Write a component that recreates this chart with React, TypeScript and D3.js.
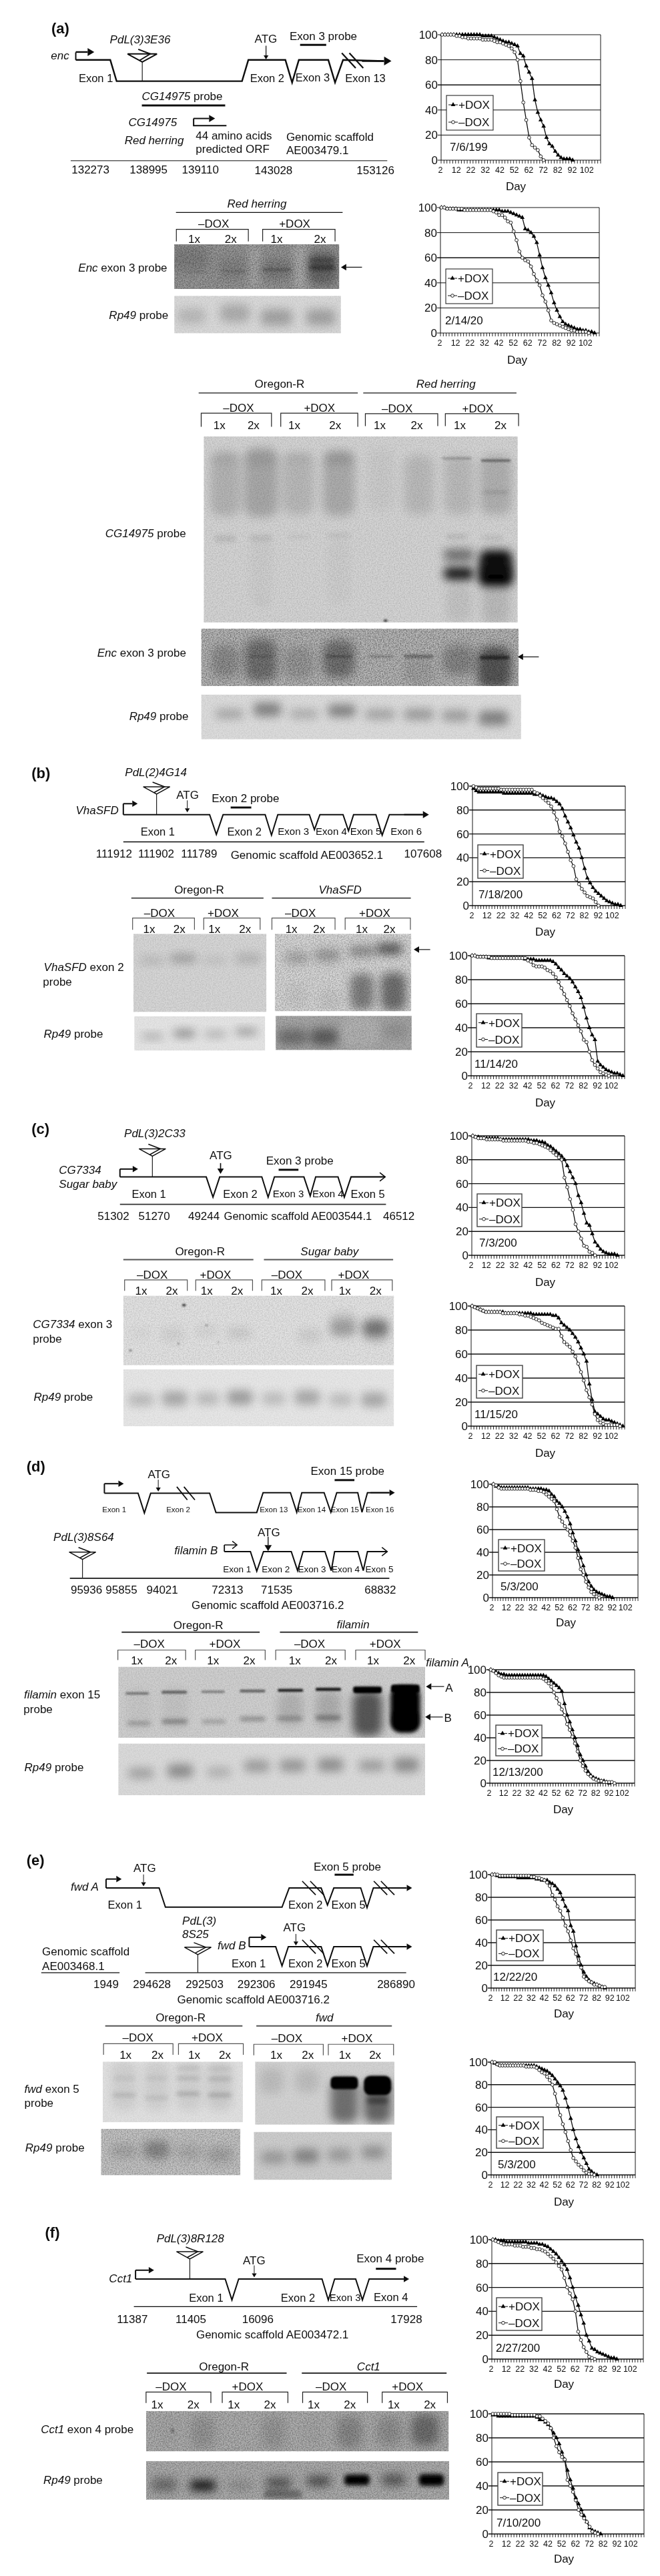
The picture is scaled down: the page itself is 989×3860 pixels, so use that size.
import React from "react";
import * as d3 from "d3";

// ---------- survival data: % alive, one value every 2 days starting at day 2 ----------
const a1Plus = [100,100,100,100,100,100,100,100,100,100,100,100,100,100,99,99,99,99,98,97,96,95,94,94,93,92,91,85,83,75,70,65,48,38,32,27,18,13,11,7,4,2,1,1,1,0];
const a1Minus = [100,100,100,100,100,99,99,98,98,97,97,97,97,97,96,96,96,96,95,94,94,93,92,91,89,86,80,63,46,32,18,12,10,8,3,0];
const a2Plus = [100,100,99,99,99,99,98,98,98,98,98,98,98,98,98,98,98,98,98,98,98,97,97,97,96,95,94,93,92,83,82,80,77,72,62,52,44,38,32,24,18,13,9,7,6,5,4,3,3,2,2,1,1,0];
const a2Minus = [100,100,99,99,99,99,99,99,98,98,98,98,98,98,98,98,98,98,97,96,94,94,92,89,88,81,74,65,60,58,57,53,47,42,38,30,25,18,10,8,7,6,5,4,3,2,2,1,1,1,1,0];
const b1Plus = [98,96,95,95,95,95,95,95,95,95,95,94,94,94,94,94,94,94,94,94,94,94,93,93,93,92,91,90,90,89,87,85,81,75,70,65,59,53,48,40,31,23,19,15,12,10,8,6,4,3,2,1,1,0];
const b1Minus = [100,99,98,98,98,98,98,98,98,98,97,97,97,97,97,97,97,97,97,97,97,97,95,94,92,90,88,86,83,78,72,62,58,52,45,38,33,22,18,14,11,8,7,6,3,0];
const b2Plus = [100,100,99,99,99,99,98,98,98,98,98,98,98,98,98,98,98,98,98,97,97,97,97,96,96,96,96,96,96,95,93,90,88,85,83,81,78,74,70,65,57,48,40,34,30,12,9,7,5,4,3,2,2,1,0];
const b2Minus = [100,100,99,99,99,99,99,98,98,98,98,98,98,98,98,98,98,98,98,98,96,95,92,91,91,91,90,88,87,85,82,78,73,68,63,58,52,47,42,37,30,28,20,13,9,6,3,2,1,0];
const c1Plus = [100,99,99,98,98,98,98,98,98,98,97,97,97,97,97,97,97,97,97,97,97,96,96,96,95,95,94,92,91,89,87,85,83,80,75,70,65,60,50,44,35,27,25,18,11,8,5,3,2,1,1,1,0];
const c1Minus = [100,99,98,98,98,97,97,97,97,97,97,96,96,96,96,96,96,96,96,96,95,95,94,94,93,92,91,90,88,86,84,82,80,65,57,47,38,26,20,14,8,7,3,2,0];
const c2Plus = [100,99,98,97,96,95,95,95,95,95,95,95,94,94,94,94,94,94,94,94,94,94,93,93,93,93,93,93,93,92,92,90,86,84,82,80,77,74,70,65,60,54,35,22,12,10,8,6,5,5,4,3,2,1,0];
const c2Minus = [100,99,98,97,96,95,95,95,95,95,95,94,94,94,94,94,94,93,93,92,92,91,90,89,88,86,85,84,83,82,81,81,75,70,68,66,62,58,52,45,38,30,24,18,10,5,3,2,1,1,1,1,1,0];
const d1Plus = [100,98,98,97,97,97,97,97,97,97,97,97,97,97,96,96,96,96,96,95,95,94,91,89,85,83,80,76,71,65,57,50,42,35,28,20,14,10,7,5,4,3,2,1,1,0];
const d1Minus = [100,99,97,96,96,96,96,96,96,96,96,96,96,96,95,95,95,94,94,93,91,89,87,85,78,71,67,63,60,55,50,44,35,25,20,14,9,5,3,1,0];
const d2Plus = [100,99,98,97,96,96,95,95,95,95,95,95,95,95,95,95,95,95,95,95,95,94,92,90,88,86,84,81,70,60,54,47,40,33,25,20,15,10,7,5,4,3,2,2,1,0];
const d2Minus = [100,99,97,95,94,93,93,93,93,93,93,93,93,93,93,93,93,93,93,93,92,90,88,85,80,75,70,65,60,52,47,41,35,28,20,15,11,8,6,4,3,2,2,1,1,1,1,0];
const e1Plus = [100,100,99,98,98,98,98,98,98,98,97,97,97,97,97,97,97,96,96,95,95,95,93,92,90,87,84,78,72,68,55,50,37,28,20,14,10,7,5,4,3,2,1,0];
const e1Minus = [100,100,100,99,99,99,99,99,99,99,99,99,99,99,99,98,98,97,97,96,95,93,90,82,78,72,68,62,55,50,42,35,30,22,18,10,8,6,5,3,3,2,1,1];
const e2Plus = [100,99,98,97,97,97,97,97,97,97,97,97,97,97,97,97,97,96,95,94,93,92,90,88,85,82,79,75,68,60,50,40,32,25,20,15,10,5,3,1,0];
const e2Minus = [100,100,98,97,97,97,97,97,97,97,97,97,97,96,96,96,96,95,93,91,90,87,84,80,72,62,53,45,38,30,22,15,12,9,7,4,2,1,1,0];
const f1Plus = [100,100,99,99,99,98,98,98,98,98,98,98,98,97,97,97,97,96,96,95,94,92,90,88,85,82,79,75,68,60,52,45,37,30,20,15,9,8,6,5,4,3,2,1,1,0];
const f1Minus = [100,99,98,97,96,96,96,96,95,95,95,94,94,94,93,93,92,92,91,90,88,86,84,81,78,75,68,60,55,50,40,23,16,10,6,2,1,0];
const f2Plus = [99,99,98,98,98,98,98,98,98,98,98,98,98,98,98,98,97,95,95,93,91,88,84,80,75,68,62,53,45,38,30,25,20,15,10,5,3,2,1,0];
const f2Minus = [100,100,100,100,100,100,100,99,99,99,99,99,99,99,99,99,98,98,96,94,92,88,80,73,68,64,62,45,40,35,28,20,16,13,10,6,2,1,0];

const dayTicks = [2,12,22,32,42,52,62,72,82,92,102];
const pctTicks = [0,20,40,60,80,100];
const FONT = "'Liberation Sans', Arial, sans-serif";

type Cfg = { plus:number[]; minus:number[]; date:string; box:number[]; legend:number[]; datePos:number[]; dayPos:number[]; soft?:boolean };
const charts: Cfg[] = [
  { plus:a1Plus, minus:a1Minus, date:"7/6/199", box:[661,900,52,240], legend:[669,739,143,195], datePos:[674,220], dayPos:[773,279] },
  { plus:a2Plus, minus:a2Minus, date:"2/14/20", box:[660,898,311,499], legend:[668,738,403,455], datePos:[667,480], dayPos:[775,539] },
  { plus:b1Plus, minus:b1Minus, date:"7/18/200", box:[708,937,1178,1357], legend:[716,784,1266,1316], datePos:[717,1340], dayPos:[817,1396], soft:true },
  { plus:b2Plus, minus:b2Minus, date:"11/14/20", box:[706,936,1432,1612], legend:[714,782,1519,1569], datePos:[711,1594], dayPos:[817,1652], soft:true },
  { plus:c1Plus, minus:c1Minus, date:"7/3/200", box:[707,936,1702,1881], legend:[715,782,1789,1838], datePos:[718,1862], dayPos:[817,1921], soft:true },
  { plus:c2Plus, minus:c2Minus, date:"11/15/20", box:[706,936,1957,2137], legend:[714,783,2046,2095], datePos:[711,2119], dayPos:[817,2177], soft:true },
  { plus:d1Plus, minus:d1Minus, date:"5/3/200", box:[738,956,2224,2394], legend:[747,816,2307,2354], datePos:[750,2377], dayPos:[848,2431], soft:true },
  { plus:d2Plus, minus:d2Minus, date:"12/13/200", box:[734,951,2502,2672], legend:[743,812,2585,2631], datePos:[738,2655], dayPos:[844,2711], soft:true },
  { plus:e1Plus, minus:e1Minus, date:"12/22/20", box:[736,952,2809,2979], legend:[744,814,2892,2938], datePos:[739,2962], dayPos:[845,3017], soft:true },
  { plus:e2Plus, minus:e2Minus, date:"5/3/200", box:[736,952,3090,3259], legend:[744,814,3172,3219], datePos:[746,3243], dayPos:[845,3299], soft:true },
  { plus:f1Plus, minus:f1Minus, date:"2/27/200", box:[737,964,3356,3535], legend:[744,812,3443,3492], datePos:[743,3518], dayPos:[845,3572], soft:true },
  { plus:f2Plus, minus:f2Minus, date:"7/10/200", box:[737,965,3617,3797], legend:[746,813,3705,3754], datePos:[744,3780], dayPos:[845,3834], soft:true },
];

const triPath = d3.symbol(d3.symbolTriangle, 20)() as string;

function Chart({ c }: { c: Cfg }) {
  const [x0, x1, yT, yB] = c.box;
  const x = d3.scaleLinear().domain([2, 112]).range([x0, x1]);
  const y = d3.scaleLinear().domain([0, 100]).range([yB, yT]);
  const line = d3.line<number>().x((_, i) => x(2 + 2 * i + 0.7)).y((v) => y(v));
  const allTicks = d3.range(2, 113, 2);
  const [lx0, lx1, ly0, ly1] = c.legend;
  const row1 = ly0 + (ly1 - ly0) * 0.27, row2 = ly0 + (ly1 - ly0) * 0.77;
  const fs = 17;
  return (
    <g fontFamily={FONT} fill="#111">
      {pctTicks.map((t) => (
        <g key={t}>
          <line x1={x0 - 5} x2={x1} y1={y(t)} y2={y(t)} stroke="#111" strokeWidth={t === 60 || c.soft ? 1.4 : 1} />
          <text x={x0 - 5} y={y(t) + 6} fontSize={fs} textAnchor="end">{t}</text>
        </g>
      ))}
      <line x1={x0} x2={x0} y1={yT} y2={yB} stroke="#111" />
      <line x1={x1} x2={x1} y1={yT} y2={yB} stroke="#111" />
      {allTicks.map((t) => (
        <line key={t} x1={x(t)} x2={x(t)} y1={yB} y2={yB + 5} stroke="#111" strokeWidth={0.9} />
      ))}
      {dayTicks.map((t) => (
        <text key={t} x={x(t) + (t === 2 ? -1 : 1)} y={yB + 19} fontSize={12.5} textAnchor="middle">{t}</text>
      ))}
      <text x={c.dayPos[0]} y={c.dayPos[1] + 6} fontSize={fs} textAnchor="middle">Day</text>
      <text x={c.datePos[0]} y={c.datePos[1] + 6} fontSize={fs}>{c.date}</text>
      <path d={line(c.plus) as string} fill="none" stroke="#111" strokeWidth={1.3} />
      {c.plus.map((v, i) => (
        <path key={i} d={triPath} transform={`translate(${x(2 + 2 * i + 0.7)},${y(v)})`} fill="#000" />
      ))}
      <path d={line(c.minus) as string} fill="none" stroke="#111" strokeWidth={1.3} />
      {c.minus.map((v, i) => (
        <circle key={i} cx={x(2 + 2 * i + 0.7)} cy={y(v)} r={2.4} fill="#fff" stroke="#111" strokeWidth={0.9} />
      ))}
      <rect x={lx0} y={ly0} width={lx1 - lx0} height={ly1 - ly0} fill="#fff" stroke={c.soft ? "#444" : "#111"} strokeWidth={c.soft ? 1.4 : 1} />
      <line x1={lx0 + 3} x2={lx0 + 17} y1={row1} y2={row1} stroke="#111" />
      <path d={triPath} transform={`translate(${lx0 + 10},${row1})`} fill="#000" />
      <text x={lx0 + 18} y={row1 + 6} fontSize={fs}>+DOX</text>
      <line x1={lx0 + 3} x2={lx0 + 17} y1={row2} y2={row2} stroke="#111" />
      <circle cx={lx0 + 10} cy={row2} r={2.4} fill="#fff" stroke="#111" strokeWidth={0.9} />
      <text x={lx0 + 18} y={row2 + 6} fontSize={fs}>–DOX</text>
    </g>
  );
}

// ---------- schematic helper: works in crop coordinates of each section ----------
const XS = 1568 / 989;
let uid = 0;
type Band = number[];
function makeSec(off: number, ys: number) {
  const X = (v: number) => v / XS;
  const Y = (v: number) => off + v / ys;
  const out: React.ReactNode[] = [];
  const k = () => out.length;
  const api = {
    t(x: number, y: number, s: string, fs = 17, extra: any = {}) {
      const parts = s.split("*");
      out.push(
        <text key={k()} x={X(x)} y={Y(y) + fs * 0.36} fontSize={fs} fontFamily={FONT} fill="#111" {...extra}>
          {parts.map((p, i) => (
            <tspan key={i} fontStyle={i % 2 ? "italic" : "normal"}>{p}</tspan>
          ))}
        </text>
      );
      return api;
    },
    l(pts: number[][], w = 2, col = "#111") {
      out.push(
        <polyline key={k()} points={pts.map((p) => `${X(p[0])},${Y(p[1])}`).join(" ")} fill="none" stroke={col} strokeWidth={w} strokeLinejoin="miter" />
      );
      return api;
    },
    arr(x1: number, y1: number, x2: number, y2: number, w = 1, size = 6) {
      const a = X(x1), b = Y(y1), c = X(x2), d = Y(y2);
      const ang = Math.atan2(d - b, c - a);
      const bx = c - size * Math.cos(ang), by = d - size * Math.sin(ang);
      const nx = -Math.sin(ang) * size * 0.6, ny = Math.cos(ang) * size * 0.6;
      out.push(
        <g key={k()}>
          <line x1={a} y1={b} x2={bx} y2={by} stroke="#111" strokeWidth={w} />
          <polygon points={`${c},${d} ${bx + nx},${by + ny} ${bx - nx},${by - ny}`} fill="#111" />
        </g>
      );
      return api;
    },
    open(x1: number, y1: number, x2: number, y2: number, w = 1.6, size = 9) {
      const a = X(x1), b = Y(y1), c = X(x2), d = Y(y2);
      out.push(
        <g key={k()} fill="none" stroke="#111" strokeWidth={w}>
          <line x1={a} y1={b} x2={c} y2={d} />
          <polyline points={`${c - size},${d - size * 0.8} ${c},${d} ${c - size},${d + size * 0.8}`} />
        </g>
      );
      return api;
    },
    ins(cx: number, top: number, halfPx: number, bottom: number, w = 1.6) {
      const x = X(cx), y = Y(top), hgt = halfPx * 0.55;
      out.push(
        <g key={k()} fill="none" stroke="#111" strokeWidth={w}>
          <polygon points={`${x - halfPx},${y} ${x + halfPx},${y} ${x},${y + hgt}`} fill="#fff" />
          <polyline points={`${x - 6},${y - 7} ${x + 12},${y} ${x - 4},${y + hgt * 0.8}`} />
          <line x1={x} x2={x} y1={y + hgt} y2={Y(bottom)} strokeWidth={1.1} />
        </g>
      );
      return api;
    },
    br(x0: number, x1: number, y0: number, y1: number, col = "#222") {
      return api.l([[x0, y1], [x0, y0], [x1, y0], [x1, y1]], 1.2, col);
    },
    panel(x0: number, x1: number, y0: number, y1: number, bg: string, noise: number, bands: Band[]) {
      const id = `clip${uid++}`;
      const px = X(x0), py = Y(y0), pw = X(x1) - X(x0), ph = Y(y1) - Y(y0);
      out.push(
        <g key={k()}>
          <clipPath id={id}><rect x={px} y={py} width={pw} height={ph} /></clipPath>
          <g clipPath={`url(#${id})`}>
            <rect x={px} y={py} width={pw} height={ph} fill={bg} />
            {bands.map((b, i) => {
              const [cx, cy, w, h, dk, lvl = 2] = b;
              const bw = w / XS, bh = h / ys;
              const a = Math.abs(dk);
              const soft = a >= 0.85 ? a : a * 0.72;
              return (
                <rect key={i} x={X(cx) - bw / 2} y={Y(cy) - bh / 2} width={bw} height={bh} rx={Math.min(bw, bh) / 3}
                  fill={dk < 0 ? "#fff" : "#000"} opacity={soft} filter={`url(#bl${lvl})`} />
              );
            })}
            <rect x={px} y={py} width={pw} height={ph} fill="#000" opacity={noise} filter="url(#noise)" />
          </g>
        </g>
      );
      return api;
    },
    nodes: out,
  };
  return api;
}

const GREY = "#555";

function buildAll() {
  const all: React.ReactNode[] = [];
  // ---- (a)
  const a = makeSec(0, 1568 / 640);
  a.t(122, 103, "(a)", 22, { fontWeight: 700 })
    .t(261, 144, "*PdL(3)3E36*").t(605, 143, "ATG").t(688, 133, "Exon 3 probe").t(121, 203, "*enc*")
    .t(187, 287, "Exon 1", 16.5).t(594, 287, "Exon 2", 16.5).t(702, 285, "Exon 3", 16.5).t(820, 287, "Exon 13", 16.5)
    .t(337, 352, "*CG14975* probe").t(305, 448, "*CG14975*").t(296, 515, "*Red herring*")
    .t(465, 497, "44 amino acids").t(465, 547, "predicted ORF").t(680, 502, "Genomic scaffold").t(680, 551, "AE003479.1")
    .t(170, 623, "132273").t(308, 623, "138995").t(432, 623, "139110").t(605, 625, "143028").t(847, 625, "153126");
  a.l([[180, 220], [262, 220], [277, 298], [575, 298], [590, 220], [678, 220], [694, 303], [710, 220], [780, 220], [796, 303], [815, 220], [912, 224]], 2.4);
  a.arr(180, 220, 180, 190, 2, 1).arr(180, 191, 224, 191, 2.4, 10).arr(860, 224, 930, 224, 2.4, 11);
  a.l([[812, 195], [845, 250]], 2.2).l([[830, 195], [863, 250]], 2.2);
  a.ins(338, 198, 22, 298, 2);
  a.arr(632, 168, 632, 218, 1.2, 6);
  a.l([[713, 165], [775, 165]], 3).l([[337, 387], [535, 387]], 3);
  a.l([[538, 461], [460, 461], [460, 435]], 2).arr(460, 435, 511, 435, 2, 9);
  a.l([[168, 590], [920, 590]], 1);
  a.t(540, 748, "*Red herring*").l([[418, 780], [814, 780]], 1.4)
    .t(471, 821, "–DOX").t(663, 821, "+DOX").br(419, 590, 842, 886).br(624, 796, 842, 886)
    .t(447, 876, "1x").t(534, 876, "2x").t(643, 876, "1x").t(746, 876, "2x");
  a.panel(414, 806, 897, 1061, "#9a9a9a", 0.35, [
    [450, 950, 90, 90, 0.18, 3], [605, 980, 28, 170, -0.3, 3], [715, 980, 30, 170, -0.38, 3],
    [555, 985, 70, 80, 0.14, 3], [657, 990, 75, 70, 0.24, 3], [765, 985, 70, 120, 0.42, 3],
    [657, 990, 65, 8, 0.35, 1], [765, 982, 60, 16, 0.75, 2], [765, 955, 60, 12, 0.6, 2], [555, 995, 55, 8, 0.2, 1], [470, 998, 50, 6, 0.12, 1],
  ]);
  a.panel(414, 810, 1086, 1224, "#d9d9d9", 0.08, [
    [455, 1160, 65, 55, 0.2, 3], [558, 1150, 70, 65, 0.28, 3], [657, 1165, 75, 60, 0.34, 3], [762, 1165, 70, 60, 0.34, 3],
  ]);
  a.t(186, 983, "*Enc* exon 3 probe").t(259, 1155, "*Rp49* probe").t(820, 952, "*", 11).arr(860, 981, 810, 981, 1.2, 8);
  // big blot
  const a2 = makeSec(560, 1568 / 580);
  a2.t(605, 40, "Oregon-R").l([[472, 78], [850, 78]], 1.4).t(989, 40, "*Red herring*").l([[863, 78], [1227, 78]], 1.4)
    .t(530, 138, "–DOX").t(722, 138, "+DOX").t(907, 140, "–DOX").t(1098, 140, "+DOX")
    .br(478, 645, 160, 215).br(667, 850, 160, 215).br(868, 1040, 162, 212).br(1058, 1232, 162, 212);
  [[507, "1x"], [588, "2x"], [685, "1x"], [782, "2x"], [888, "1x"], [976, "2x"], [1078, "1x"], [1175, "2x"]].forEach(([x, s]) => a2.t(x as number, 207, s as string));
  a2.panel(484, 1230, 254, 1008, "#d4d4d4", 0.12, [
    [535, 445, 70, 260, 0.2, 3], [620, 440, 80, 280, 0.27, 3], [708, 445, 75, 250, 0.17, 3], [805, 445, 75, 260, 0.25, 3],
    [905, 430, 65, 250, 0.05, 3], [995, 450, 70, 240, 0.15, 3], [1090, 450, 70, 240, 0.15, 3], [1178, 450, 75, 240, 0.22, 3],
    [535, 345, 60, 35, 0.08, 3], [620, 345, 70, 50, 0.1, 3], [710, 340, 70, 25, 0.08, 3], [805, 340, 70, 50, 0.15, 3],
    [1085, 343, 70, 10, 0.3, 1], [1178, 352, 70, 10, 0.6, 1], [1178, 480, 60, 10, 0.25, 2],
    [535, 668, 50, 30, 0.12, 2], [620, 665, 55, 30, 0.1, 2], [710, 660, 50, 15, 0.08, 2], [805, 655, 55, 20, 0.1, 2],
    [620, 800, 50, 260, 0.04, 3], [805, 800, 50, 260, 0.04, 3], [625, 930, 35, 30, 0.05, 3],
    [1085, 660, 50, 20, 0.15, 2], [1170, 665, 50, 20, 0.12, 2],
    [1090, 735, 70, 50, 0.65, 3], [1090, 810, 70, 50, 0.9, 3], [1178, 750, 75, 70, 0.95, 3], [1178, 825, 80, 70, 1, 3], [1178, 790, 75, 60, 0.95, 3],
    [1090, 930, 60, 150, 0.1, 3], [1178, 930, 65, 170, 0.15, 3], [916, 1000, 8, 8, 0.9, 1],
  ]);
  a2.panel(478, 1232, 1033, 1265, "#bababa", 0.38, [
    [535, 1165, 65, 130, 0.28, 3], [620, 1160, 75, 170, 0.5, 3], [710, 1170, 70, 130, 0.2, 3], [805, 1155, 75, 150, 0.5, 3],
    [905, 1145, 60, 12, 0.25, 1], [995, 1145, 70, 15, 0.4, 1], [995, 1200, 70, 120, 0.12, 3], [1090, 1160, 75, 120, 0.33, 3],
    [1175, 1190, 80, 170, 0.7, 3], [1175, 1150, 70, 15, 0.7, 1], [805, 1145, 65, 10, 0.35, 1], [620, 1145, 60, 10, 0.2, 1],
  ]);
  a2.panel(478, 1238, 1300, 1481, "#dcdcdc", 0.08, [
    [545, 1378, 65, 35, 0.35, 3], [635, 1360, 65, 55, 0.55, 3], [722, 1378, 65, 35, 0.3, 3], [812, 1365, 65, 50, 0.55, 3],
    [903, 1380, 70, 40, 0.35, 3], [995, 1380, 70, 45, 0.4, 3], [1083, 1385, 65, 45, 0.38, 3], [1172, 1395, 70, 60, 0.55, 3],
  ]);
  a2.t(250, 647, "*CG14975* probe").t(231, 1130, "*Enc* exon 3 probe").t(307, 1387, "*Rp49* probe").t(1240, 1115, "*", 11).arr(1280, 1147, 1230, 1147, 1.2, 8);

  // ---- (b)
  const b = makeSec(1120, 2.8);
  b.t(75, 108, "(b)", 22, { fontWeight: 700 }).t(297, 104, "*PdL(2)4G14*").t(419, 198, "ATG").t(503, 213, "Exon 2 probe").t(180, 262, "*VhaSFD*");
  b.l([[293, 282], [498, 282], [514, 365], [530, 282], [630, 282], [645, 368], [660, 282], [735, 282], [747, 345], [760, 282], [815, 282], [828, 350], [840, 282], [893, 282], [908, 368], [925, 282], [1005, 282]], 2);
  b.l([[293, 282], [293, 236]], 2).arr(293, 236, 327, 236, 2, 8).arr(960, 282, 1019, 282, 2, 9);
  [[334, "Exon 1"], [540, "Exon 2"]].forEach(([x, s]) => b.t(x as number, 352, s as string, 16.5));
  [[660, "Exon 3"], [750, "Exon 4"], [832, "Exon 5"], [928, "Exon 6"]].forEach(([x, s]) => b.t(x as number, 352, s as string, 15));
  b.ins(372, 165, 20, 282, 1.5).arr(445, 222, 445, 272, 1, 6).l([[548, 252], [597, 252]], 3).l([[293, 396], [1008, 396]], 1.4);
  b.t(228, 445, "111912").t(328, 445, "111902").t(430, 445, "111789").t(548, 450, "Genomic scaffold AE003652.1").t(960, 445, "107608");
  b.t(414, 597, "Oregon-R").l([[312, 632], [626, 632]], 2, GREY).t(757, 597, "*VhaSFD*").l([[646, 632], [976, 632]], 2, GREY);
  b.t(342, 693, "–DOX").t(493, 693, "+DOX").t(677, 693, "–DOX").t(853, 693, "+DOX");
  b.br(315, 462, 716, 765, GREY).br(484, 618, 716, 765, GREY).br(646, 796, 716, 765, GREY).br(820, 975, 716, 765, GREY);
  [[340, "1x"], [412, "2x"], [495, "1x"], [568, "2x"], [678, "1x"], [744, "2x"], [845, "1x"], [911, "2x"]].forEach(([x, s]) => b.t(x as number, 762, s as string));
  b.panel(317, 633, 782, 1110, "#d6d6d6", 0.1, [[360, 893, 55, 28, 0.2, 3], [435, 885, 60, 32, 0.38, 3], [510, 893, 55, 25, 0.14, 3], [590, 885, 60, 40, 0.22, 3]]);
  b.panel(653, 977, 782, 1107, "#d8d8d8", 0.25, [
    [705, 882, 55, 45, 0.32, 3], [778, 872, 60, 50, 0.38, 3], [860, 855, 60, 40, 0.5, 3], [925, 845, 60, 45, 0.82, 3],
    [860, 1025, 55, 150, 0.55, 3], [935, 1025, 60, 160, 0.65, 3], [705, 1040, 50, 100, 0.06, 3], [785, 1060, 50, 80, 0.08, 3],
  ]);
  b.panel(319, 630, 1128, 1272, "#e4e4e4", 0.05, [[362, 1212, 50, 22, 0.4, 3], [438, 1200, 50, 30, 0.55, 3], [512, 1203, 50, 25, 0.35, 3], [585, 1193, 50, 25, 0.5, 3]]);
  b.panel(655, 978, 1126, 1270, "#a9a9a9", 0.2, [[695, 1215, 70, 65, 0.45, 3], [770, 1215, 65, 70, 0.6, 3], [855, 1210, 50, 50, 0.02, 3], [940, 1190, 55, 60, 0.15, 3], [855, 1190, 90, 140, -0.2, 3]]);
  b.t(104, 922, "*VhaSFD* exon 2").t(102, 982, "probe").t(104, 1200, "*Rp49* probe").arr(1022, 848, 983, 848, 1.2, 8);

  // ---- (c)
  const c = makeSec(1660, 2.8);
  c.t(75, 88, "(c)", 22, { fontWeight: 700 }).t(295, 105, "*PdL(3)2C33*").t(498, 198, "ATG").t(632, 221, "Exon 3 probe").t(140, 260, "*CG7334*").t(140, 318, "*Sugar baby*");
  c.l([[285, 290], [490, 290], [506, 375], [522, 290], [622, 290], [637, 375], [652, 290], [722, 290], [737, 370], [750, 290], [803, 290], [818, 375], [834, 290], [915, 290]], 2);
  c.l([[285, 290], [285, 257]], 2).arr(285, 257, 328, 257, 2, 8).open(834, 290, 915, 290, 1.6, 8);
  c.ins(362, 172, 20, 290, 1.5).arr(524, 232, 524, 277, 1.6, 8).l([[662, 260], [709, 260]], 3).l([[285, 405], [917, 405]], 1.8, "#333");
  c.t(313, 360, "Exon 1", 16.5).t(530, 360, "Exon 2", 16.5).t(648, 360, "Exon 3", 15).t(742, 360, "Exon 4", 15).t(833, 360, "Exon 5", 16.5);
  c.t(232, 453, "51302").t(329, 453, "51270").t(447, 453, "49244").t(532, 453, "Genomic scaffold AE003544.1", 16.5).t(910, 453, "46512");
  c.t(416, 601, "Oregon-R").l([[293, 637], [602, 637]], 2, GREY).t(714, 601, "*Sugar baby*").l([[627, 637], [934, 637]], 2, GREY);
  c.t(325, 699, "–DOX").t(475, 699, "+DOX").t(645, 699, "–DOX").t(803, 699, "+DOX");
  c.br(296, 445, 722, 768, GREY).br(465, 600, 722, 768, GREY).br(622, 772, 722, 768, GREY).br(788, 932, 722, 768, GREY);
  [[321, "1x"], [394, "2x"], [477, "1x"], [549, "2x"], [642, "1x"], [716, "2x"], [805, "1x"], [878, "2x"]].forEach(([x, s]) => c.t(x as number, 767, s as string));
  c.panel(293, 936, 788, 1080, "#e2e2e2", 0.12, [
    [335, 945, 50, 50, 0.04, 3], [410, 950, 55, 60, 0.08, 3], [490, 935, 50, 40, 0.08, 3], [568, 945, 55, 40, 0.14, 3], [735, 955, 55, 60, 0.1, 3],
    [815, 925, 60, 70, 0.3, 3], [892, 925, 60, 60, 0.55, 3], [892, 930, 55, 110, 0.2, 3], [815, 900, 60, 90, 0.12, 3],
    [437, 828, 8, 8, 0.95, 1], [310, 1018, 5, 5, 0.95, 1], [424, 990, 4, 4, 0.9, 1], [491, 912, 4, 4, 0.9, 1], [519, 984, 4, 4, 0.8, 1],
  ]);
  c.panel(293, 936, 1097, 1336, "#e6e6e6", 0.05, [
    [335, 1225, 60, 50, 0.26, 3], [415, 1220, 60, 60, 0.36, 3], [493, 1220, 55, 50, 0.26, 3], [570, 1215, 60, 60, 0.42, 3],
    [650, 1220, 55, 50, 0.24, 3], [730, 1215, 60, 60, 0.36, 3], [810, 1225, 55, 50, 0.24, 3], [888, 1225, 60, 60, 0.36, 3],
  ]);
  c.t(78, 908, "*CG7334* exon 3").t(78, 968, "probe").t(80, 1212, "*Rp49* probe");

  // ---- (d)
  const d = makeSec(2200, 2.8);
  d.t(63, -8, "(d)", 22, { fontWeight: 700 }).t(351, 25, "ATG").t(738, 11, "Exon 15 probe");
  d.l([[248, 105], [328, 105], [343, 188], [358, 105], [498, 105], [513, 186], [610, 186], [625, 103], [690, 103], [705, 185], [717, 103], [770, 103], [786, 185], [800, 103], [850, 103], [860, 185], [873, 103], [925, 103]], 2);
  d.l([[248, 105], [248, 65]], 2).arr(248, 65, 294, 65, 2, 8).arr(880, 103, 938, 103, 2, 8);
  d.l([[420, 78], [445, 133]], 1.8).l([[437, 78], [463, 133]], 1.8).arr(376, 48, 376, 98, 1, 6).l([[795, 50], [842, 50]], 3);
  [[243, "Exon 1"], [395, "Exon 2"], [617, "Exon 13"], [707, "Exon 14"], [786, "Exon 15"], [869, "Exon 16"]].forEach(([x, s]) => d.t(x as number, 174, s as string, 11.5));
  d.t(127, 287, "*PdL(3)8S64*").t(612, 268, "ATG").t(414, 345, "*filamin B*");
  d.l([[533, 350], [595, 350], [610, 432], [626, 350], [692, 350], [707, 430], [720, 350], [772, 350], [787, 430], [795, 350], [850, 350], [863, 430], [873, 350], [920, 350]], 2);
  d.l([[533, 350], [533, 322]], 1.8).open(533, 322, 563, 322, 1.5, 7).open(873, 350, 920, 350, 1.6, 8).arr(637, 288, 637, 348, 1.4, 9);
  [[530, "Exon 1"], [622, "Exon 2"], [708, "Exon 3"], [788, "Exon 4"], [868, "Exon 5"]].forEach(([x, s]) => d.t(x as number, 423, s as string, 13.5));
  d.ins(196, 352, 20, 462, 1.5).l([[166, 462], [925, 462]], 1.8, "#333");
  [[168, "95936"], [251, "95855"], [348, "94021"], [503, "72313"], [620, "71535"], [866, "68832"]].forEach(([x, s]) => d.t(x as number, 508, s as string));
  d.t(455, 574, "Genomic scaffold AE003716.2");
  d.t(412, 657, "Oregon-R").l([[289, 688], [617, 688]], 2, "#333").t(800, 655, "*filamin*").l([[665, 688], [993, 688]], 2, "#333");
  d.t(318, 736, "–DOX").t(497, 736, "+DOX").t(699, 736, "–DOX").t(878, 736, "+DOX");
  d.br(280, 441, 763, 805, GREY).br(464, 630, 763, 805, GREY).br(655, 820, 763, 805, GREY).br(845, 1010, 763, 805, GREY);
  [[311, "1x"], [392, "2x"], [492, "1x"], [578, "2x"], [686, "1x"], [772, "2x"], [872, "1x"], [958, "2x"]].forEach(([x, s]) => d.t(x as number, 806, s as string));
  d.t(1012, 814, "*filamin A*");
  d.panel(281, 1010, 833, 1131, "#cfcfcf", 0.1, [
    [326, 945, 55, 10, 0.6, 1], [414, 940, 60, 12, 0.7, 1], [506, 938, 55, 10, 0.55, 1], [600, 935, 60, 12, 0.7, 1], [690, 932, 60, 12, 0.85, 1], [780, 928, 60, 12, 0.95, 1],
    [873, 930, 68, 28, 1, 1], [963, 925, 68, 34, 1, 1],
    [330, 1070, 55, 14, 0.4, 2], [415, 1063, 60, 18, 0.5, 2], [508, 1063, 55, 14, 0.38, 2], [600, 1052, 60, 16, 0.48, 2], [688, 1050, 60, 14, 0.45, 2], [780, 1047, 60, 18, 0.5, 2],
    [690, 1010, 60, 140, 0.18, 3], [780, 1010, 60, 150, 0.22, 3], [873, 1030, 70, 190, 0.8, 3], [963, 1010, 70, 190, 1, 2], [963, 1060, 60, 90, 1, 2],
    [330, 1010, 60, 180, 0.05, 3], [415, 1010, 60, 180, 0.07, 3],
  ]);
  d.panel(281, 1010, 1155, 1372, "#dadada", 0.06, [
    [335, 1280, 60, 45, 0.34, 3], [428, 1270, 60, 55, 0.48, 3], [520, 1275, 55, 40, 0.26, 3], [610, 1250, 60, 50, 0.38, 3],
    [695, 1248, 60, 50, 0.42, 3], [785, 1245, 60, 55, 0.46, 3], [883, 1248, 60, 45, 0.38, 3], [965, 1245, 60, 60, 0.48, 3],
  ]);
  d.t(57, 950, "*filamin* exon 15").t(56, 1010, "probe").t(58, 1255, "*Rp49* probe");
  d.arr(1055, 916, 1012, 916, 1.2, 8).t(1058, 922, "A").arr(1052, 1044, 1010, 1044, 1.2, 8).t(1055, 1048, "B");

  // ---- (e)
  const e = makeSec(2720, 1568 / 600);
  e.t(63, 175, "(e)", 22, { fontWeight: 700 }).t(317, 205, "ATG").t(745, 202, "Exon  5 probe").t(168, 280, "*fwd A*");
  e.l([[252, 285], [378, 285], [393, 360], [670, 360], [687, 285], [763, 285], [778, 352], [793, 285], [857, 285], [872, 362], [887, 285], [965, 285]], 2);
  e.l([[252, 285], [252, 250]], 2).arr(252, 250, 289, 250, 2, 8).arr(930, 285, 979, 285, 2, 8);
  [718, 737, 888, 905].forEach((x) => e.l([[x, 258], [x + 32, 312]], 1.7));
  e.arr(341, 232, 341, 278, 1, 6).l([[795, 233], [840, 233]], 3);
  e.t(256, 351, "Exon 1", 16.5).t(685, 351, "Exon 2", 16.5).t(787, 351, "Exon 5", 16.5);
  e.t(433, 412, "*PdL(3)*").t(433, 466, "*8S25*").t(673, 440, "ATG").t(517, 508, "*fwd B*").t(100, 534, "Genomic scaffold").t(100, 590, "AE003468.1");
  e.l([[592, 515], [655, 515], [670, 590], [685, 515], [763, 515], [778, 590], [793, 515], [857, 515], [872, 590], [887, 515], [965, 515]], 2);
  e.l([[592, 515], [592, 478]], 2).arr(592, 478, 633, 478, 2, 8).arr(930, 515, 979, 515, 2, 8);
  [718, 737, 888, 905].forEach((x) => e.l([[x, 488], [x + 32, 542]], 1.7));
  e.arr(703, 465, 703, 510, 1, 6);
  e.t(550, 581, "Exon 1", 16.5).t(685, 581, "Exon 2", 16.5).t(787, 581, "Exon 5", 16.5);
  e.ins(470, 517, 20, 617, 1.5).l([[345, 617], [965, 617]], 1.5, "#333").l([[98, 617], [284, 617]], 1.5, "#333");
  [[222, "1949"], [316, "294628"], [441, "292503"], [564, "292306"], [688, "291945"], [896, "286890"]].forEach(([x, s]) => e.t(x as number, 662, s as string));
  e.t(421, 722, "Genomic scaffold AE003716.2");
  e.t(370, 791, "Oregon-R").l([[250, 825], [576, 825]], 2, GREY).t(750, 791, "*fwd*").l([[609, 825], [931, 825]], 2, GREY);
  e.t(291, 870, "–DOX").t(455, 870, "+DOX").t(645, 873, "–DOX").t(811, 873, "+DOX");
  e.br(246, 411, 895, 938, GREY).br(424, 578, 895, 938, GREY).br(603, 768, 897, 940, GREY).br(780, 935, 897, 940, GREY);
  [[284, "1x"], [360, "2x"], [447, "1x"], [520, "2x"], [642, "1x"], [717, "2x"], [805, "1x"], [877, "2x"]].forEach(([x, s]) => e.t(x as number, 938, s as string));
  e.panel(244, 577, 965, 1202, "#e0e0e0", 0.05, [
    [295, 1060, 60, 190, 0.1, 3], [372, 1060, 60, 190, 0.1, 3], [450, 1060, 60, 190, 0.1, 3], [522, 1060, 60, 190, 0.12, 3],
    [295, 1096, 55, 12, 0.22, 2], [372, 1106, 55, 12, 0.15, 2], [447, 1091, 55, 12, 0.32, 2], [522, 1096, 55, 12, 0.32, 2],
    [295, 1030, 50, 15, 0.1, 2], [372, 1030, 50, 15, 0.1, 2], [447, 1030, 55, 10, 0.25, 2], [522, 1033, 55, 10, 0.25, 2], [447, 990, 55, 8, 0.22, 2], [522, 992, 55, 8, 0.16, 2],
  ]);
  e.panel(606, 937, 965, 1212, "#d2d2d2", 0.06, [
    [645, 1040, 55, 100, 0.14, 3], [730, 1040, 55, 90, 0.14, 3], [818, 1048, 65, 50, 1, 1], [897, 1058, 65, 75, 1, 1],
    [818, 1120, 65, 170, 0.65, 3], [897, 1120, 65, 170, 0.72, 3], [897, 1118, 50, 25, 0.5, 2],
  ]);
  e.panel(240, 571, 1228, 1410, "#c5c5c5", 0.25, [[295, 1315, 60, 50, 0.2, 3], [372, 1310, 60, 70, 0.42, 3], [450, 1320, 60, 60, 0.15, 3], [523, 1330, 60, 60, 0.22, 3]]);
  e.panel(603, 931, 1240, 1428, "#cdcdcd", 0.08, [[650, 1340, 60, 50, 0.34, 3], [727, 1335, 60, 55, 0.48, 3], [807, 1330, 55, 50, 0.32, 3], [887, 1320, 55, 50, 0.38, 3]]);
  e.t(58, 1070, "*fwd* exon 5").t(58, 1126, "probe").t(60, 1300, "*Rp49* probe");

  // ---- (f)
  const f = makeSec(3300, 2.8);
  f.t(107, 127, "(f)", 22, { fontWeight: 700 }).t(372, 151, "*PdL(3)8R128*").t(577, 243, "ATG").t(847, 236, "Exon 4 probe").t(259, 320, "*Cct1*");
  f.l([[322, 322], [535, 322], [551, 410], [567, 322], [765, 322], [780, 410], [795, 322], [845, 322], [861, 410], [877, 322], [958, 322]], 2);
  f.l([[322, 322], [322, 285]], 2).arr(322, 285, 366, 285, 2, 8).arr(920, 322, 972, 322, 2, 8);
  f.ins(451, 207, 20, 322, 1.5).arr(604, 265, 604, 315, 1, 6).l([[893, 279], [941, 279]], 3).l([[318, 438], [991, 438]], 1.2);
  f.t(449, 400, "Exon 1", 16.5).t(667, 400, "Exon 2", 16.5).t(783, 400, "Exon 3", 15).t(888, 398, "Exon 4", 16.5);
  f.t(278, 491, "11387").t(417, 491, "11405").t(575, 491, "16096").t(928, 491, "17928").t(466, 555, "Genomic scaffold AE003472.1");
  f.t(473, 688, "Oregon-R").l([[349, 717], [681, 717]], 2, "#333").t(848, 688, "*Cct1*").l([[717, 717], [1061, 717]], 2, "#333");
  f.t(370, 772, "–DOX").t(551, 772, "+DOX").t(750, 772, "–DOX").t(931, 772, "+DOX");
  f.br(347, 501, 796, 842).br(528, 684, 796, 842).br(719, 873, 796, 842).br(908, 1063, 796, 842);
  [[359, "1x"], [445, "2x"], [541, "1x"], [627, "2x"], [731, "1x"], [817, "2x"], [921, "1x"], [1007, "2x"]].forEach(([x, s]) => f.t(x as number, 848, s as string));
  f.panel(347, 1066, 876, 1045, "#b0b0b0", 0.3, [
    [400, 960, 50, 120, 0.03, 3], [482, 965, 55, 130, 0.17, 3], [650, 965, 55, 130, 0.16, 3], [745, 965, 50, 120, 0.03, 3],
    [830, 965, 60, 130, 0.28, 3], [925, 960, 60, 120, 0.22, 3], [1010, 955, 65, 130, 0.5, 3], [410, 958, 6, 14, 0.6, 1],
  ]);
  f.panel(347, 1067, 1086, 1248, "#aeaeae", 0.28, [
    [390, 1185, 60, 55, 0.5, 3], [482, 1188, 60, 40, 0.95, 3], [570, 1188, 55, 35, 0.24, 3], [662, 1178, 60, 45, 0.7, 3], [672, 1225, 90, 35, 0.45, 2],
    [757, 1170, 55, 40, 0.8, 3], [848, 1165, 60, 45, 1, 2], [935, 1165, 55, 45, 0.7, 3], [1025, 1165, 60, 50, 1, 2],
  ]);
  f.t(97, 953, "*Cct1* exon 4 probe").t(103, 1165, "*Rp49* probe");

  [a, a2, b, c, d, e, f].forEach((s, i) => all.push(<g key={i}>{s.nodes}</g>));
  return all;
}

export default function App() {
  uid = 0;
  return (
    <svg width={989} height={3860} viewBox="0 0 989 3860" style={{ position: "absolute", left: 0, top: 0, display: "block", background: "#fff" }}>
      <defs>
        <filter id="bl1" x="-100%" y="-400%" width="300%" height="900%"><feGaussianBlur stdDeviation="1.7" /></filter>
        <filter id="bl2" x="-100%" y="-400%" width="300%" height="900%"><feGaussianBlur stdDeviation="3.4" /></filter>
        <filter id="bl3" x="-100%" y="-100%" width="300%" height="300%"><feGaussianBlur stdDeviation="7" /></filter>
        <filter id="noise" x="0" y="0" width="100%" height="100%">
          <feTurbulence type="fractalNoise" baseFrequency="0.55" numOctaves="2" seed="4" />
          <feColorMatrix values="0 0 0 0 0  0 0 0 0 0  0 0 0 0 0  2.2 0 0 0 -0.75" />
        </filter>
        <filter id="soften" filterUnits="userSpaceOnUse" x="0" y="0" width="989" height="3860"><feGaussianBlur stdDeviation="0.35" /></filter>
      </defs>
      <rect width={989} height={3860} fill="#fff" />
      <g filter="url(#soften)">
        {buildAll()}
        {charts.map((c, i) => <Chart key={i} c={c} />)}
      </g>
    </svg>
  );
}
